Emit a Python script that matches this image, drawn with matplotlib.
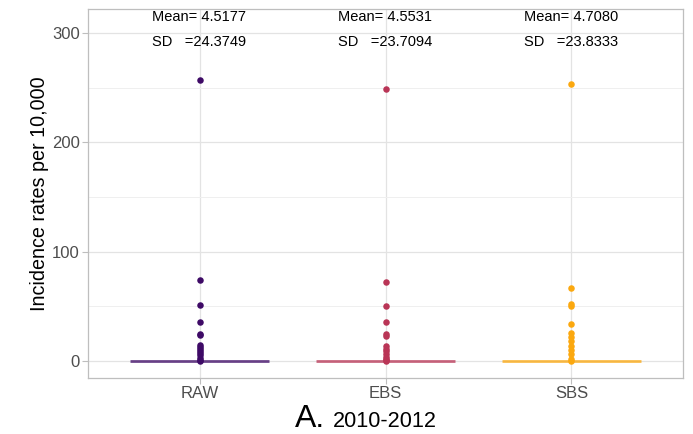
import numpy as np
import matplotlib
matplotlib.use("Agg")
import matplotlib.pyplot as plt

plt.rcParams['font.family'] = ['Liberation Sans', 'DejaVu Sans']

methods = ["RAW", "EBS", "SBS"]
colors = ["#3E0A66", "#B93556", "#FBA80F"]
means = ["4.5177", "4.5531", "4.7080"]
sds = ["24.3749", "23.7094", "23.8333"]

# outlier values (median/box collapse at 0)
raw_pts = [257, 74, 51, 36, 25, 24, 15, 13, 11, 9, 7, 5, 3, 1, 0]
ebs_pts = [249, 72, 50, 36, 25, 23, 14, 11, 9, 6, 4, 2, 1, 0]
sbs_pts = [253, 67, 52, 50, 34, 26, 22, 18, 14, 10, 6, 2, 0]
points = [raw_pts, ebs_pts, sbs_pts]

fig = plt.figure(figsize=(6.93, 4.34), dpi=100)
ax = fig.add_axes([88/693, 1-378/434, 595/693, 369/434])

pos = np.arange(1, len(methods)+1)
for i, (x, c) in enumerate(zip(pos, colors)):
    # flat boxplot: all quartiles at 0
    ax.plot([x-0.375, x+0.375], [0, 0], color=c, lw=2, alpha=0.75,
            solid_capstyle='butt', zorder=3)
    ax.scatter([x]*len(points[i]), points[i], s=22, color=c, zorder=4,
               linewidths=0)
    ax.text(x, 303, "Mean= " + means[i] + "\nSD   =" + sds[i], ha='center',
            va='center', multialignment='left', fontsize=10.5,
            linespacing=2.0, color='black')

ax.set_xlim(0.4, 3.6)
ax.set_ylim(-15.6, 322)
ax.set_xticks(pos)
ax.set_xticklabels(methods)
ax.set_yticks([0, 100, 200, 300])
ax.set_yticks([50, 150, 250], minor=True)
ax.grid(True, which='major', color='#E3E3E3', lw=0.9)
ax.grid(True, which='minor', axis='y', color='#EFEFEF', lw=0.7)
ax.set_axisbelow(True)
for s in ax.spines.values():
    s.set_color('#BEBEBE')
    s.set_linewidth(0.9)
ax.tick_params(axis='both', which='major', colors='#BEBEBE', length=4,
               labelcolor='#4D4D4D', labelsize=12, pad=2)
ax.tick_params(axis='y', which='minor', length=0)

ax.set_ylabel("Incidence rates per 10,000", fontsize=14.2, color='black', labelpad=2)

# x title: big "A." followed by the period
fig.text(295/693, 1-427/434, "A.", fontsize=23, va='baseline', ha='left')
fig.text(333/693, 1-427/434, "2010-2012", fontsize=15.6, va='baseline', ha='left')

fig.savefig("out.png", dpi=100)
